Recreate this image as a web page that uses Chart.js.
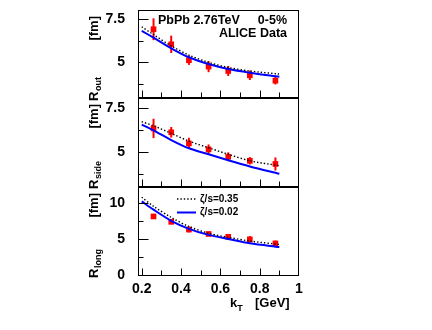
<!DOCTYPE html>
<html>
<head>
<meta charset="utf-8">
<script src="https://cdn.jsdelivr.net/npm/chart.js@4.4.1/dist/chart.umd.min.js"></script>
<style>
  html, body { margin: 0; padding: 0; background: #fff; }
  #wrap { position: relative; width: 432px; height: 330px; }
  #wrap canvas { position: absolute; left: 0; top: 0; }
</style>
</head>
<body>
<div id="wrap">
  <canvas id="cOut" width="432" height="330"></canvas>
  <canvas id="cSide" width="432" height="330"></canvas>
  <canvas id="cLong" width="432" height="330"></canvas>
</div>
<script>
// ALICE data points (kT bin centres) and errors
var kT = [0.26, 0.35, 0.44, 0.54, 0.64, 0.75, 0.88];
var rOut = [6.91, 6.04, 5.12, 4.75, 4.50, 4.25, 3.94];
var rOutErr = [0.63, 0.50, 0.27, 0.32, 0.29, 0.27, 0.22];
var rSide = [6.36, 6.14, 5.51, 5.17, 4.75, 4.52, 4.34];
var rSideErr = [0.55, 0.30, 0.32, 0.28, 0.25, 0.21, 0.37];
var rLong = [8.13, 7.39, 6.32, 5.71, 5.32, 4.96, 4.40];
var rLongErr = [0.35, 0.35, 0.40, 0.30, 0.35, 0.45, 0.40];

// hydro model curves
var kTModel = [0.2, 0.26, 0.35, 0.44, 0.54, 0.64, 0.75, 0.9];
var outZeta035 = [7.05, 6.60, 5.95, 5.42, 5.00, 4.70, 4.50, 4.32];
var outZeta002 = [6.82, 6.42, 5.81, 5.29, 4.90, 4.61, 4.40, 4.17];
var sideZeta035 = [6.74, 6.51, 6.08, 5.64, 5.26, 4.89, 4.52, 4.24];
var sideZeta002 = [6.58, 6.25, 5.70, 5.23, 4.89, 4.55, 4.20, 3.78];
var longZeta035 = [10.78, 9.53, 8.00, 6.74, 5.81, 5.25, 4.73, 4.27];
var longZeta002 = [10.22, 9.07, 7.53, 6.42, 5.58, 5.02, 4.42, 3.90];

// axis ticks
var xLabels = [0.2, 0.4, 0.6, 0.8, 1];
var xMinor = [0.3, 0.5, 0.7, 0.9];
var yLabelsR = [5, 7.5];
var yMinorR = [3.75, 6.25];
var yLabelsLong = [0, 5, 10];
var yMinorLong = [2.5, 7.5];
var legendLabels = ['\u03B6/s=0.35', '\u03B6/s=0.02'];

var FONT = '"Liberation Sans", Arial, Helvetica, sans-serif';

var panels = [
  { id: 'cOut', top: 10, bottom: 98, yMin: 2.94, yMax: 8.02, yLabels: yLabelsR, yMinor: yMinorR,
    sub: 'out', data: rOut, err: rOutErr, m35: outZeta035, m02: outZeta002, showX: false, header: true },
  { id: 'cSide', top: 98, bottom: 187, yMin: 3.03, yMax: 8.09, yLabels: yLabelsR, yMinor: yMinorR,
    sub: 'side', data: rSide, err: rSideErr, m35: sideZeta035, m02: sideZeta002, showX: false },
  { id: 'cLong', top: 187, bottom: 276, yMin: -0.1, yMax: 12.2, yLabels: yLabelsLong, yMinor: yMinorLong,
    sub: 'long', data: rLong, err: rLongErr, m35: longZeta035, m02: longZeta002, showX: true, legend: true }
];

function framePlugin(p) {
  return {
    id: 'rootFrame',
    beforeDatasetsDraw: function(chart) {
      // vertical error bars
      var ctx = chart.ctx, xs = chart.scales.x, ys = chart.scales.y;
      ctx.save();
      ctx.strokeStyle = '#ff0000';
      ctx.lineWidth = 2;
      for (var i = 0; i < kT.length; i++) {
        var x = xs.getPixelForValue(kT[i]);
        ctx.beginPath();
        ctx.moveTo(x, ys.getPixelForValue(p.data[i] - p.err[i]));
        ctx.lineTo(x, ys.getPixelForValue(p.data[i] + p.err[i]));
        ctx.stroke();
      }
      ctx.restore();
    },
    afterDraw: function(chart) {
      var ctx = chart.ctx, ca = chart.chartArea, xs = chart.scales.x, ys = chart.scales.y;
      var L = Math.round(ca.left) + 0.5, R = Math.round(ca.right) - 0.5;
      var T = Math.round(ca.top) + 0.5, B = Math.round(ca.bottom) - 0.5;
      ctx.save();
      ctx.strokeStyle = '#000';
      ctx.lineWidth = 1;
      ctx.strokeRect(L, T, R - L, B - T);

      ctx.beginPath();
      // y ticks, inside
      p.yLabels.forEach(function(v) {
        var y = Math.round(ys.getPixelForValue(v)) + 0.5;
        if (y > T && y < B) { ctx.moveTo(L, y); ctx.lineTo(L + 10, y); }
      });
      p.yMinor.forEach(function(v) {
        var y = Math.round(ys.getPixelForValue(v)) + 0.5;
        ctx.moveTo(L, y); ctx.lineTo(L + 5, y);
      });
      // x ticks along the bottom edge
      xLabels.concat(xMinor).forEach(function(v) {
        var len = xMinor.indexOf(v) >= 0 ? 5 : 7;
        var x = Math.round(xs.getPixelForValue(v)) + 0.5;
        if (x >= R - 1) return;
        ctx.moveTo(x, B); ctx.lineTo(x, B - len);
      });
      ctx.stroke();

      // y title: R_sub  [fm]
      ctx.fillStyle = '#000';
      ctx.save();
      ctx.translate(97.5, p.top + 91);
      ctx.rotate(-Math.PI / 2);
      ctx.textBaseline = 'alphabetic';
      ctx.textAlign = 'left';
      ctx.font = 'bold 13px ' + FONT;
      ctx.fillText('R', 0, 0);
      var wR = ctx.measureText('R').width;
      ctx.font = 'bold 9px ' + FONT;
      ctx.fillText(p.sub, wR + 0.5, 3);
      ctx.font = 'bold 13px ' + FONT;
      ctx.textAlign = 'right';
      ctx.fillText('[fm]', 85, 0);
      ctx.restore();

      if (p.showX) {
        ctx.font = 'bold 13px ' + FONT;
        ctx.textAlign = 'left';
        ctx.textBaseline = 'alphabetic';
        ctx.fillText('k', 230, 307);
        var wk = ctx.measureText('k').width;
        ctx.font = 'bold 9px ' + FONT;
        ctx.fillText('T', 230 + wk, 310.5);
        ctx.font = 'bold 13px ' + FONT;
        ctx.fillText('[GeV]', 255, 307);
      }

      if (p.header) {
        ctx.font = 'bold 12.5px ' + FONT;
        ctx.textBaseline = 'alphabetic';
        ctx.textAlign = 'left';
        ctx.fillText('PbPb 2.76TeV', 158, 23.5);
        ctx.textAlign = 'right';
        ctx.fillText('0-5%', 287, 23.5);
        ctx.fillText('ALICE Data', 287, 36.5);
      }

      if (p.legend) {
        var ds = chart.data.datasets;
        var rows = [199, 212.5];
        ctx.font = 'bold 10px ' + FONT;
        ctx.textAlign = 'left';
        ctx.textBaseline = 'middle';
        for (var k = 0; k < 2; k++) {
          ctx.save();
          ctx.strokeStyle = ds[k].borderColor;
          ctx.lineWidth = ds[k].borderWidth;
          ctx.setLineDash(ds[k].borderDash || []);
          ctx.beginPath();
          ctx.moveTo(177, rows[k]);
          ctx.lineTo(196, rows[k]);
          ctx.stroke();
          ctx.restore();
          ctx.fillText(legendLabels[k], 200, rows[k]);
        }
      }
      ctx.restore();
    }
  };
}

function toXY(xv, yv) {
  return xv.map(function(x, i) { return { x: x, y: yv[i] }; });
}

function buildPanel(p) {
  var tickFont = { family: FONT, size: 14, weight: 'bold' };
  return new Chart(document.getElementById(p.id), {
    type: 'line',
    data: {
      datasets: [
        { label: legendLabels[0], data: toXY(kTModel, p.m35), borderColor: '#000000', borderWidth: 1.4,
          borderDash: [1.4, 2], pointRadius: 0, tension: 0.3, fill: false },
        { label: legendLabels[1], data: toXY(kTModel, p.m02), borderColor: '#0000ff', borderWidth: 2,
          pointRadius: 0, tension: 0.3, fill: false },
        { label: 'ALICE Data', data: toXY(kT, p.data), showLine: false, pointStyle: 'rect', pointRadius: 4,
          backgroundColor: '#ff0000', borderColor: '#ff0000', borderWidth: 0 }
      ]
    },
    options: {
      responsive: false,
      animation: false,
      events: [],
      layout: { padding: { left: 0, right: 432 - 299, top: p.top, bottom: p.showX ? 0 : 330 - p.bottom } },
      plugins: { legend: { display: false }, tooltip: { enabled: false } },
      scales: {
        x: {
          type: 'linear', min: 0.181, max: 1.0, display: p.showX,
          grid: { display: false, drawTicks: false }, border: { display: false },
          afterBuildTicks: function(s) { s.ticks = xLabels.map(function(v) { return { value: v }; }); },
          afterFit: function(s) {
            s.height = p.showX ? 330 - p.bottom : 0;
            s.paddingLeft = 0; s.paddingRight = 0;
          },
          ticks: { font: tickFont, color: '#000', padding: 5, maxRotation: 0, autoSkip: false,
                   callback: function(v) { return String(v); } }
        },
        y: {
          type: 'linear', min: p.yMin, max: p.yMax,
          grid: { display: false, drawTicks: false }, border: { display: false },
          afterBuildTicks: function(s) { s.ticks = p.yLabels.map(function(v) { return { value: v }; }); },
          afterFit: function(s) {
            s.width = 138;
            s.paddingTop = 0; s.paddingBottom = 0;
          },
          ticks: { font: tickFont, color: '#000', padding: 13, autoSkip: false,
                   callback: function(v) { return String(v); } }
        }
      }
    },
    plugins: [framePlugin(p)]
  });
}

panels.forEach(buildPanel);
</script>
</body>
</html>
